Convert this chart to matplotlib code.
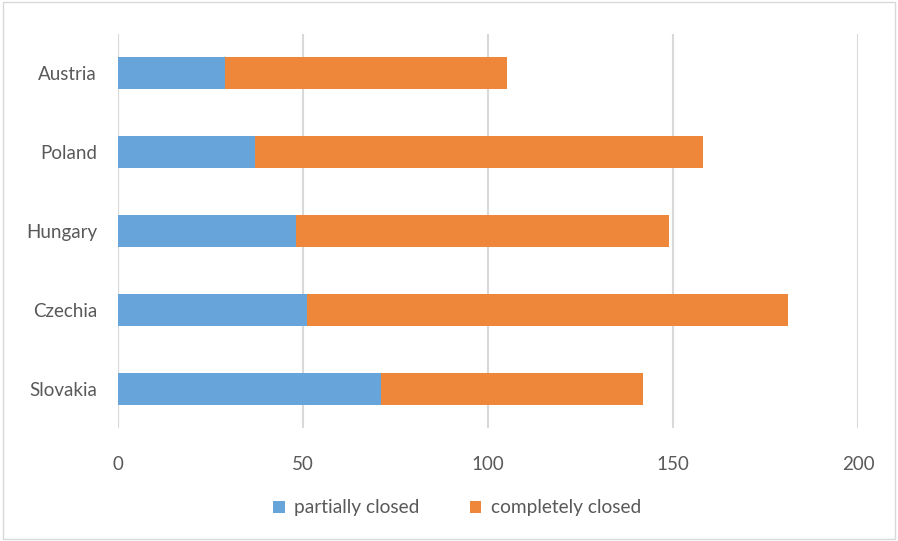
import numpy as np
import matplotlib.pyplot as plt
from matplotlib.patches import Rectangle

# dados
paises = ['Slovakia', 'Czechia', 'Hungary', 'Poland', 'Austria']
parcial = [71, 51, 48, 37, 29]
completo = [71, 130, 101, 121, 76]

cor_azul = '#66A4DA'
cor_laranja = '#EF873A'
cor_texto = '#595959'

plt.rcParams['font.family'] = ['Lato', 'DejaVu Sans']

fig = plt.figure(figsize=(8.98, 5.41), dpi=100)
ax = fig.add_axes([0.1314, 0.208, 0.8241, 0.730])

y = np.arange(len(paises))
ax.barh(y, parcial, height=0.4, color=cor_azul, label='partially closed', zorder=3)
ax.barh(y, completo, left=parcial, height=0.4, color=cor_laranja, label='completely closed', zorder=3)

ax.set_xlim(0, 200)
ax.set_ylim(-0.5, len(paises) - 0.5)
ax.set_xticks([0, 50, 100, 150, 200])
ax.set_yticks(y)
ax.set_yticklabels(paises)
ax.grid(axis='x', color='#D9D9D9', linewidth=1.5, zorder=0)
ax.axvline(0, color='#D9D9D9', linewidth=1.5, zorder=1)
for s in ax.spines.values():
    s.set_visible(False)
ax.tick_params(axis='both', length=0, colors=cor_texto, labelsize=13.5)
ax.tick_params(axis='x', pad=20)
ax.tick_params(axis='y', pad=15)

leg = fig.legend(loc='center', bbox_to_anchor=(0.509, 0.061), ncol=2, frameon=False,
                 fontsize=13.8, handlelength=0.6, handleheight=0.6, handletextpad=0.5,
                 columnspacing=2.6)
for t in leg.get_texts():
    t.set_color(cor_texto)

# borda do grafico
fig.patches.append(Rectangle((0.003, 0.003), 0.994, 0.994, transform=fig.transFigure,
                             fill=False, edgecolor='#D9D9D9', linewidth=1))

plt.savefig('out.png', dpi=100)
